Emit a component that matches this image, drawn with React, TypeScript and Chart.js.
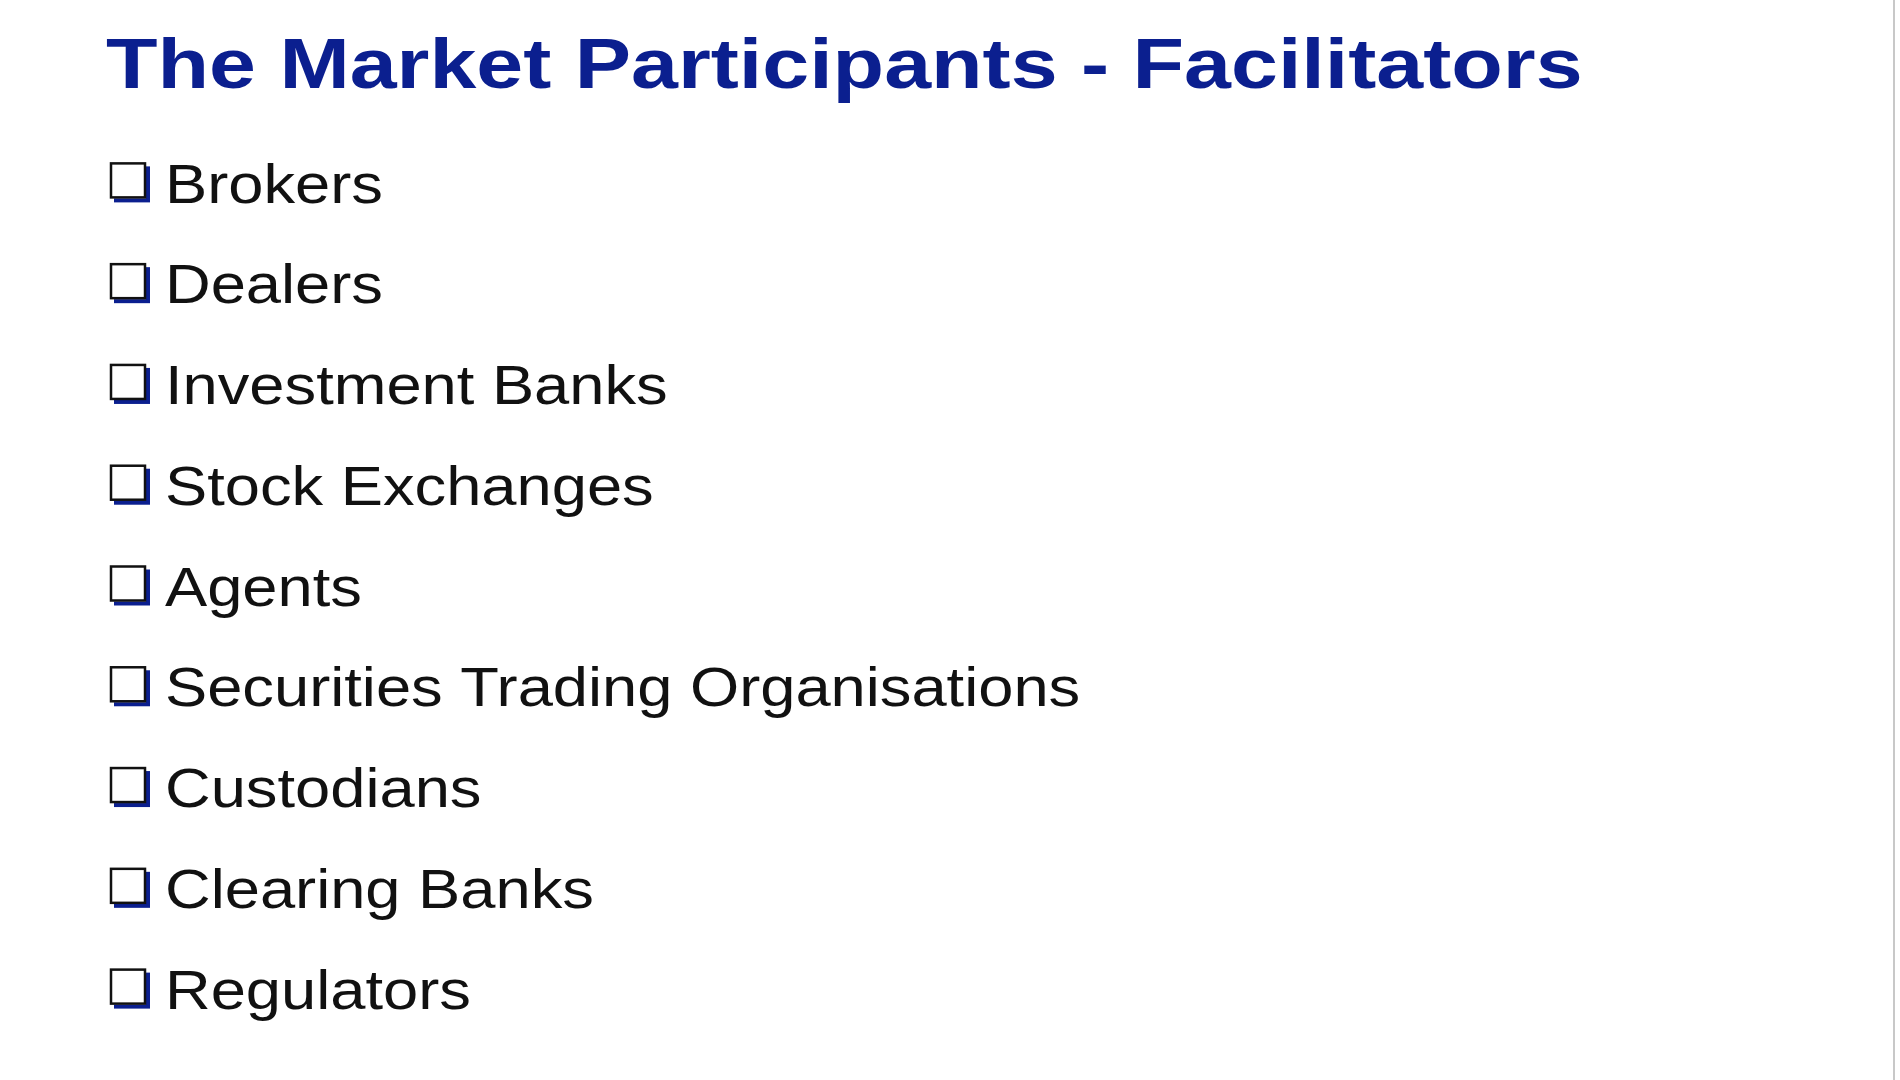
import React, { useEffect, useRef } from 'react';
import Chart from 'chart.js/auto';

const title = 'The Market Participants - Facilitators';
const items = [
  'Brokers',
  'Dealers',
  'Investment Banks',
  'Stock Exchanges',
  'Agents',
  'Securities Trading Organisations',
  'Custodians',
  'Clearing Banks',
  'Regulators',
];
const xValues = items.map(() => 0);

const App = () => {
  const chartRef = useRef<HTMLCanvasElement>(null);
  const chartInstance = useRef<Chart | null>(null);

  useEffect(() => {
    document.body.style.margin = '0';
    if (!chartRef.current) return;
    if (chartInstance.current) chartInstance.current.destroy();

    // stretched text, like the original slide
    const wideText = (ctx: any, text: string, x: number, y: number, sx: number) => {
      ctx.save();
      ctx.translate(x, y);
      ctx.scale(sx, 1);
      ctx.fillText(text, 0, 0);
      ctx.restore();
    };

    // draws the title, bullets and item text at the positions the scales give
    const slidePlugin = {
      id: 'slide',
      afterDatasetsDraw(chart: any) {
        const ctx = chart.ctx;
        const meta = chart.getDatasetMeta(0);
        ctx.save();
        ctx.fillStyle = '#0b1f8f';
        ctx.font = "bold 70px 'Liberation Sans', Arial, sans-serif";
        ctx.textBaseline = 'middle';
        wideText(ctx, title, 106, 69, 1.205);

        meta.data.forEach((pt: any, i: number) => {
          const bx = pt.x - 20;
          const by = pt.y - 5 - 18;
          ctx.fillStyle = '#0b1f8f';
          ctx.fillRect(bx + 4, by + 4, 36, 36);
          ctx.fillStyle = '#ffffff';
          ctx.fillRect(bx, by, 36, 36);
          ctx.strokeStyle = '#111';
          ctx.lineWidth = 2.5;
          ctx.strokeRect(bx + 1, by + 1, 34, 34);

          ctx.fillStyle = '#111';
          ctx.font = "55px 'Liberation Sans', Arial, sans-serif";
          wideText(ctx, items[i], 165, pt.y + 2, 1.15);
        });

        ctx.strokeStyle = '#c8c8c8';
        ctx.lineWidth = 2;
        ctx.beginPath();
        ctx.moveTo(1894, 0);
        ctx.lineTo(1894, 1080);
        ctx.stroke();
        ctx.restore();
      },
    };

    chartInstance.current = new Chart(chartRef.current, {
      type: 'line',
      data: {
        labels: items,
        datasets: [
          {
            data: xValues,
            pointRadius: 0,
            showLine: false,
          } as any,
        ],
      },
      options: {
        indexAxis: 'y',
        animation: false,
        responsive: false,
        layout: { padding: { left: 130, right: 20, top: 135, bottom: 38 } },
        plugins: { legend: { display: false }, tooltip: { enabled: false } },
        scales: {
          x: { type: 'linear', min: 0, max: 1, display: false },
          y: { type: 'category', offset: true, display: false },
        },
      },
      plugins: [slidePlugin],
    });

    return () => {
      if (chartInstance.current) {
        chartInstance.current.destroy();
        chartInstance.current = null;
      }
    };
  }, []);

  return (
    <div style={{ width: 1900, height: 1080, background: '#fff' }}>
      <canvas ref={chartRef} width={1900} height={1080}></canvas>
    </div>
  );
};

export default App;
